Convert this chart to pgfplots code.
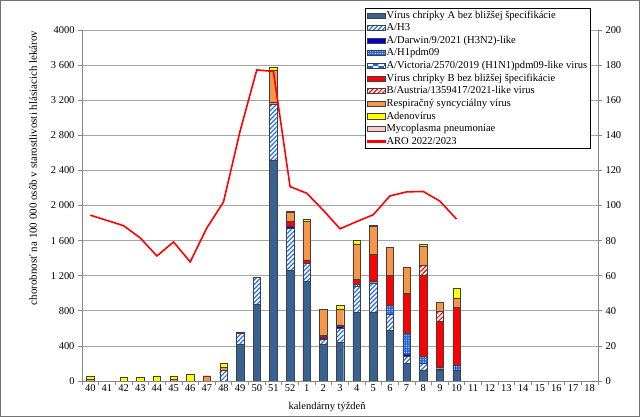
\documentclass[border=0pt]{standalone}
\usepackage{fontspec}
\setmainfont{Liberation Serif}
\usepackage{pgfplots}
\pgfplotsset{compat=1.18}
\usepackage{pgfplotstable}
\usetikzlibrary{patterns,patterns.meta}

\definecolor{cA}{RGB}{56,98,146}
\definecolor{cDarwin}{RGB}{0,0,204}
\definecolor{cH1}{RGB}{30,100,230}
\definecolor{cStripe}{RGB}{40,110,240}
\definecolor{cB}{RGB}{255,0,0}
\definecolor{cRSV}{RGB}{247,150,70}
\definecolor{cAdeno}{RGB}{255,255,0}
\definecolor{cMyco}{RGB}{255,204,204}
\definecolor{cGrid}{RGB}{165,165,165}
\definecolor{cAxis}{RGB}{134,134,134}

\pgfplotstableread{
x A H3 Dar H1 B BA RSV Ad My
0 0 0 0 0 0 0 1 2 0
1 0 0 0 0 0 0 0 0 0
2 0 0 0 0 0 0 0 2 0
3 0 0 0 0 0 0 0 2 0
4 0 0 0 0 0 0 0 3 0
5 0 0 0 0 0 0 1 2 0
6 0 0 0 0 0 0 0 4 0
7 0 0 0 0 0 0 3 0 0
8 0 6 0 0 0 0 2 2 0
9 21 6 0 0 0 0 1 0 0
10 44 15 0 0 0 0 0 0 0
11 126 32 0 0 1 0 18 2 0
12 63 24 1 0 3 0 5 1 0
13 57 10 0 0 2 0 22 1 0
14 21 3 1 0 1 0 15 0 0
15 22 8 1 0 1 0 9 2 0
16 39 15 0 1 3 0 20 2 0
17 39 17 1 0 15 0 16 0 1
18 29 9 0 5 17 0 16 0 0
19 10 4 1 12 23 0 15 0 0
20 6 4 0 4 46 6 11 1 0
21 6 1 1 0 26 6 5 0 0
22 6 0 0 3 33 0 5 6 0
}\bars

\pgfplotstableread{
x y
0 1890
1 1830
2 1770
3 1630
4 1425
5 1585
6 1357
7 1744
8 2040
9 2850
10 3545
11 3528
12 2215
13 2140
14 1945
15 1735
16 1816
17 1895
18 2109
19 2155
20 2160
21 2050
22 1845
}\aro

\pgfplotsset{
  base/.style={
    at={(82bp,36bp)}, anchor=south west,
    scale only axis, width=516bp, height=351bp,
    xmin=-0.5, xmax=30.5,
    /pgf/number format/assume math mode=true,
    tick label style={font=\fontsize{10.5}{12}\selectfont, black},
    label style={font=\fontsize{10.5}{12}\selectfont},
    axis line style={cAxis, line width=0.7pt},
    tick style={cAxis, line width=0.7pt},
    tick align=outside,
    major tick length=4bp,
  },
  bst/.style={draw=black!75, line width=0.4pt},
  sA/.style={bst, fill=cA},
  sH3/.style={bst, fill=white, postaction={pattern={Lines[angle=45,distance=3.2pt,line width=1.2pt]}, pattern color=cStripe}},
  sDar/.style={bst, fill=cDarwin},
  sH1/.style={bst, fill=cH1, postaction={pattern={Dots[distance=2.4pt,radius=0.55pt]}, pattern color=white}},
  sVic/.style={bst, fill=white, postaction={pattern=checkerboard, pattern color=cH1}},
  sB/.style={bst, fill=cB},
  sBA/.style={bst, fill=white, postaction={pattern={Lines[angle=45,distance=3.2pt,line width=1.2pt]}, pattern color=cB}},
  sRSV/.style={bst, fill=cRSV},
  sAd/.style={bst, fill=cAdeno},
  sMy/.style={bst, fill=cMyco},
  legbar/.style={legend image code/.code={\draw[##1] (0bp,-2.6bp) rectangle (18bp,2.6bp);}},
  legline/.style={legend image code/.code={\fill[red] (0bp,-0.9bp) rectangle (18bp,0.9bp);}},
}

\begin{document}
\begin{tikzpicture}
\useasboundingbox (0,0) rectangle (640bp,417bp);
\fill[white] (0,0) rectangle (640bp,417bp);
\draw[black!55, line width=1bp] (0.5bp,0.5bp) rectangle (639.5bp,416.5bp);

% left axis with grid
\begin{axis}[base,
  ymin=0, ymax=4000,
  ytick={0,400,...,4000},
  yticklabels={0,400,800,1 200,1 600,2 000,2 400,2 800,3 200,3 600,4000},
  ymajorgrids, grid style={cGrid, line width=0.7pt},
  axis y line*=left, axis x line*=bottom,
  xtick={-0.5,0.5,...,30.5}, xticklabels={},
  extra x ticks={0,...,30},
  extra x tick labels={40,41,42,43,44,45,46,47,48,49,50,51,52,1,2,3,4,5,6,7,8,9,10,11,12,13,14,15,16,17,18},
  extra x tick style={major tick length=0pt, grid=none},
  xlabel={kalendárny týždeň},
  xlabel style={at={(axis description cs:0.475,-0.074)}, anchor=center},
  ylabel={chorobnosť na 100 000 osôb  v starostlivosti hlásiacich lekárov},
  ylabel style={at={(axis description cs:-0.095,0.607)}, anchor=center, font=\fontsize{11}{12}\selectfont},
]
\end{axis}

% bars on right axis
\begin{axis}[base,
  ymin=0, ymax=200,
  ytick={0,20,...,200},
  axis y line*=right, axis x line=none,
  ybar stacked, bar width=0.45,
]
\addplot[sA]   table[x=x,y=A]{\bars};
\addplot[sH3]  table[x=x,y=H3]{\bars};
\addplot[sDar] table[x=x,y=Dar]{\bars};
\addplot[sH1]  table[x=x,y=H1]{\bars};
\addplot[sB]   table[x=x,y=B]{\bars};
\addplot[sBA]  table[x=x,y=BA]{\bars};
\addplot[sRSV] table[x=x,y=RSV]{\bars};
\addplot[sAd]  table[x=x,y=Ad]{\bars};
\addplot[sMy]  table[x=x,y=My]{\bars};
\end{axis}

% ARO line + legend
\begin{axis}[base,
  ymin=0, ymax=4000, hide axis,
  legend cell align=left,
  legend style={at={(axis description cs:0.5484,1.0627)}, anchor=north west,
    draw=black, line width=0.6pt, fill=white,
    font=\fontsize{10.6}{11}\selectfont, inner sep=1.5bp, row sep=1.4bp,
    nodes={inner sep=1.2bp}},
]
\addlegendimage{legbar, sA}\addlegendentry{Vírus chrípky A bez bližšej špecifikácie}
\addlegendimage{legbar, sH3}\addlegendentry{A/H3}
\addlegendimage{legbar, sDar}\addlegendentry{A/Darwin/9/2021 (H3N2)-like}
\addlegendimage{legbar, sH1}\addlegendentry{A/H1pdm09}
\addlegendimage{legbar, sVic}\addlegendentry{A/Victoria/2570/2019 (H1N1)pdm09-like virus}
\addlegendimage{legbar, sB}\addlegendentry{Vírus chrípky B bez bližšej špecifikácie}
\addlegendimage{legbar, sBA}\addlegendentry{B/Austria/1359417/2021-like virus}
\addlegendimage{legbar, sRSV}\addlegendentry{Respiračný syncyciálny vírus}
\addlegendimage{legbar, sAd}\addlegendentry{Adenovírus}
\addlegendimage{legbar, sMy}\addlegendentry{Mycoplasma pneumoniae}
\addlegendimage{legline}\addlegendentry{ARO 2022/2023}
\addplot[draw=red, line width=1.6pt, forget plot] table[x=x,y=y]{\aro};
\end{axis}
\end{tikzpicture}
\end{document}
